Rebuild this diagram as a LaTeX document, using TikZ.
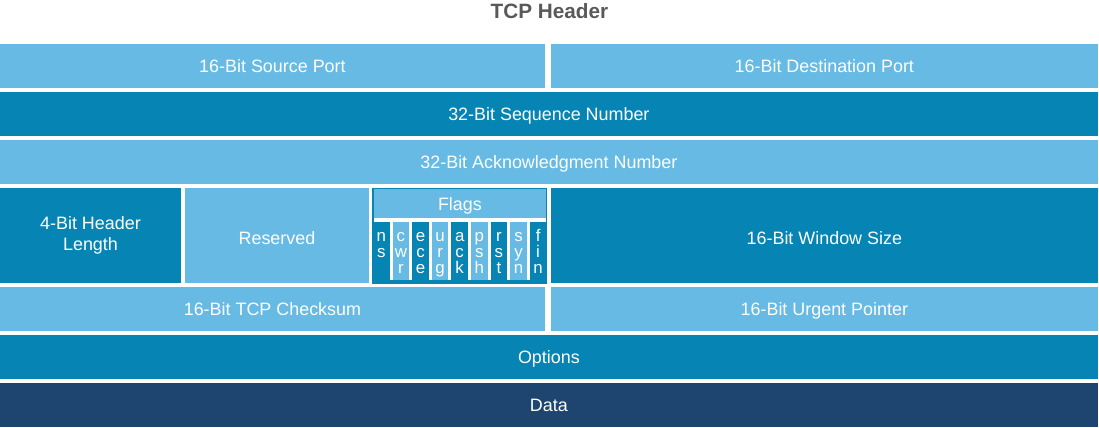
\documentclass[tikz,border=0pt]{standalone}
\usepackage{fontspec}
\setmainfont{Liberation Sans}
\usetikzlibrary{positioning}
\definecolor{claro}{HTML}{66BAE3}
\definecolor{medio}{HTML}{0685B4}
\definecolor{oscuro}{HTML}{1D4570}
\definecolor{gristitulo}{HTML}{595959}
\tikzset{
	x=0.02cm, y=-0.02cm, % Un pixel de la imagen, y hacia abajo
	node distance=0.08cm, % Separacion entre campos
	campo/.style={inner sep=0, outer sep=0, text=white, align=center, text height=1.5ex, text depth=0pt,
		font=\fontsize{10.2}{12}\selectfont, minimum height=0.88cm}, % Campos de la cabecera
	bit/.style={inner sep=0, outer sep=0, minimum width=0.332cm, minimum height=1.17cm}, % Columnas de los flags
	letra/.style={inner sep=0, text=white, anchor=base, font=\fontsize{9.6}{9}\selectfont} % Letras de los flags
}

\begin{document}
\begin{tikzpicture}
	\useasboundingbox (0,0) rectangle (1099,428);
	\node[font=\fontsize{11.8}{13}\selectfont\bfseries, text=gristitulo] (titulo) at (549.5,11.5) {TCP Header};
	% fila 1
	\node[campo, fill=claro, minimum width=10.9cm, anchor=north west] (src) at (0,44) {16-Bit Source Port};
	\node[campo, fill=claro, minimum width=10.94cm, right=0.12cm of src] (dst) {16-Bit Destination Port};
	% filas 2 y 3
	\node[campo, fill=medio, minimum width=21.96cm, below=of src.south west, anchor=north west] (seq) {32-Bit Sequence Number};
	\node[campo, fill=claro, minimum width=21.96cm, below=of seq.south west, anchor=north west] (ack) {32-Bit Acknowledgment Number};
	% fila 4
	\node[campo, fill=medio, text height=, text depth=, minimum width=3.62cm, minimum height=1.9cm, below=of ack.south west, anchor=north west] (hlen) {4-Bit Header\\Length};
	\node[campo, fill=claro, text height=1.9ex, minimum width=3.68cm, minimum height=1.9cm, right=of hlen] (rsv) {Reserved};
	\node[campo, fill=medio, draw=medio, line width=0.5pt, minimum width=3.48cm, minimum height=1.9cm, right=of rsv] (flags) {};
	\node[campo, fill=medio, text height=1.9ex, minimum width=10.94cm, minimum height=1.9cm, right=of flags] (win) {16-Bit Window Size};
	\node[campo, fill=claro, minimum width=3.44cm, minimum height=0.58cm, below=0.02cm of flags.north] (flaglbl) {Flags};
	\fill[white] (374,218) rectangle (546,280.5);
	\foreach \i/\col/\letras in {0/medio/{n,s}, 1/claro/{c,w,r}, 2/medio/{e,c,e}, 3/claro/{u,r,g}, 4/medio/{a,c,k},
			5/claro/{p,s,h}, 6/medio/{r,s,t}, 7/claro/{s,y,n}, 8/medio/{f,i,n}}{
		\node[bit, fill=\col, anchor=north west] (b\i) at ({373+\i*19.6},222) {};
		\foreach \c [count=\j] in \letras
			\node[letra] (l\i-\j) at ({381.3+\i*19.6},{241.7+(\j-1)*15.8}) {\c};
	}
	% filas 5 a 7
	\node[campo, fill=claro, minimum width=10.9cm, below=of hlen.south west, anchor=north west] (chk) {16-Bit TCP Checksum};
	\node[campo, fill=claro, minimum width=10.94cm, right=0.12cm of chk] (urg) {16-Bit Urgent Pointer};
	\node[campo, fill=medio, minimum width=21.96cm, below=of chk.south west, anchor=north west] (opt) {Options};
	\node[campo, fill=oscuro, minimum width=21.96cm, below=of opt.south west, anchor=north west] (data) {Data};
\end{tikzpicture}
\end{document}
